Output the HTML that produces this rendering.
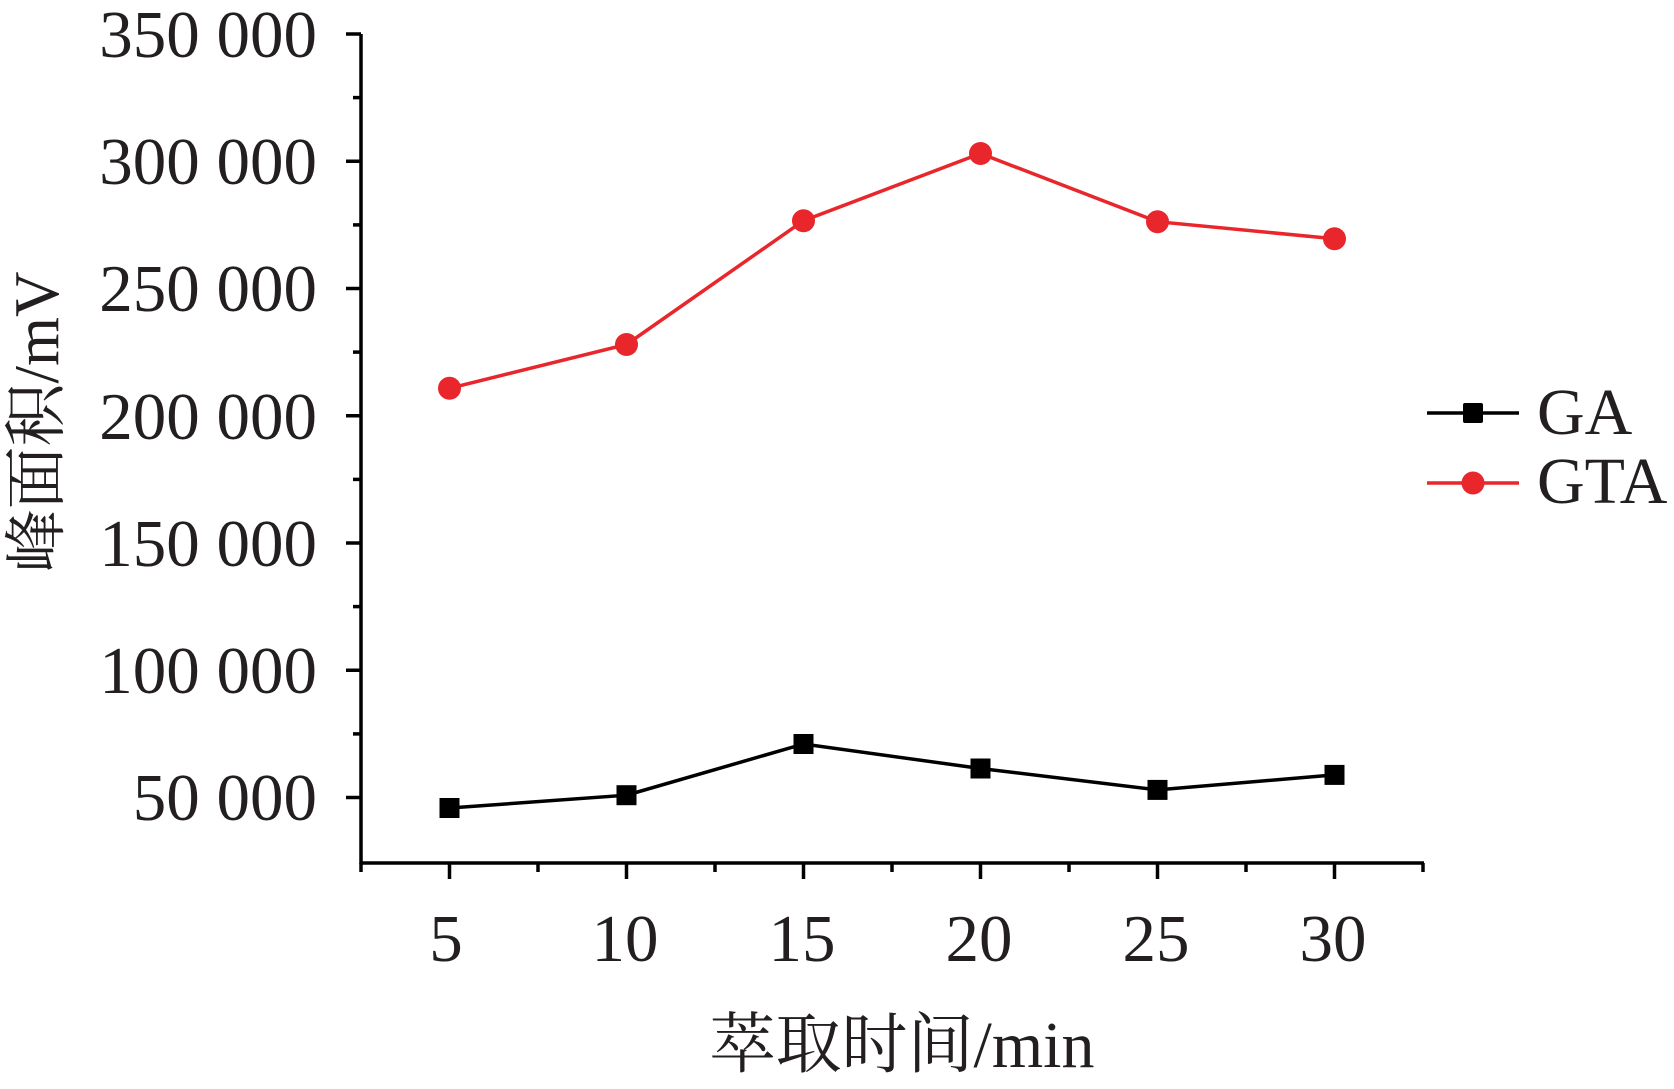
<!DOCTYPE html>
<html><head><meta charset="utf-8"><style>
html,body{margin:0;padding:0;background:#fff;}
svg{display:block;}
text{font-family:"Liberation Serif","Noto Serif CJK SC",serif;fill:#231f20;}
</style></head><body>
<svg width="1674" height="1089" viewBox="0 0 1674 1089" xmlns="http://www.w3.org/2000/svg">
<g stroke="#000" stroke-width="3.5" fill="none">
<line x1="361" y1="34" x2="361" y2="864"/>
<line x1="360" y1="863" x2="1424" y2="863"/>
<line x1="346" y1="34" x2="361" y2="34"/><line x1="346" y1="161.25" x2="361" y2="161.25"/>
<line x1="346" y1="288.5" x2="361" y2="288.5"/><line x1="346" y1="415.75" x2="361" y2="415.75"/>
<line x1="346" y1="543" x2="361" y2="543"/><line x1="346" y1="670.25" x2="361" y2="670.25"/>
<line x1="346" y1="797.5" x2="361" y2="797.5"/>
<line x1="353" y1="97.6" x2="361" y2="97.6"/><line x1="353" y1="224.9" x2="361" y2="224.9"/>
<line x1="353" y1="352.1" x2="361" y2="352.1"/><line x1="353" y1="479.4" x2="361" y2="479.4"/>
<line x1="353" y1="606.6" x2="361" y2="606.6"/><line x1="353" y1="733.9" x2="361" y2="733.9"/>
<line x1="449.5" y1="863" x2="449.5" y2="879"/><line x1="626.5" y1="863" x2="626.5" y2="879"/>
<line x1="803.5" y1="863" x2="803.5" y2="879"/><line x1="980.5" y1="863" x2="980.5" y2="879"/>
<line x1="1157.5" y1="863" x2="1157.5" y2="879"/><line x1="1334.5" y1="863" x2="1334.5" y2="879"/>
<line x1="361" y1="863" x2="361" y2="872"/><line x1="538" y1="863" x2="538" y2="872"/>
<line x1="715" y1="863" x2="715" y2="872"/><line x1="892" y1="863" x2="892" y2="872"/>
<line x1="1069" y1="863" x2="1069" y2="872"/><line x1="1246" y1="863" x2="1246" y2="872"/>
<line x1="1423" y1="863" x2="1423" y2="872"/>
</g>
<g font-size="67" text-anchor="end">
<text x="317" y="57">350 000</text>
<text x="317" y="184">300 000</text>
<text x="317" y="311">250 000</text>
<text x="317" y="439">200 000</text>
<text x="317" y="566">150 000</text>
<text x="317" y="693">100 000</text>
<text x="317" y="820">50 000</text>
</g>
<g font-size="67" text-anchor="middle">
<text x="446" y="961">5</text>
<text x="625" y="961">10</text>
<text x="802" y="961">15</text>
<text x="979" y="961">20</text>
<text x="1156" y="961">25</text>
<text x="1333" y="961">30</text>
</g>
<text x="902" y="1067" font-size="66" text-anchor="middle">萃取时间/min</text>
<text transform="translate(58,422) rotate(-90)" font-size="63" text-anchor="middle">峰面积/mV</text>
<polyline fill="none" stroke="#e8262b" stroke-width="3.5" points="449.5,388.3 626.5,344.5 803.5,220.7 980.5,153.5 1157.5,221.7 1334.5,238.8"/>
<g fill="#e8262b">
<circle cx="449.5" cy="388.3" r="11.5"/><circle cx="626.5" cy="344.5" r="11.5"/>
<circle cx="803.5" cy="220.7" r="11.5"/><circle cx="980.5" cy="153.5" r="11.5"/>
<circle cx="1157.5" cy="221.7" r="11.5"/><circle cx="1334.5" cy="238.8" r="11.5"/>
</g>
<polyline fill="none" stroke="#000" stroke-width="3.5" points="449.5,808 626.5,795.2 803.5,744 980.5,768.5 1157.5,789.9 1334.5,774.9"/>
<g fill="#000">
<rect x="439.5" y="798" width="20" height="20"/><rect x="616.5" y="785.2" width="20" height="20"/>
<rect x="793.5" y="734" width="20" height="20"/><rect x="970.5" y="758.5" width="20" height="20"/>
<rect x="1147.5" y="779.9" width="20" height="20"/><rect x="1324.5" y="764.9" width="20" height="20"/>
</g>
<line x1="1427" y1="413" x2="1519" y2="413" stroke="#000" stroke-width="3.5"/>
<rect x="1463" y="403" width="20" height="20" fill="#000" rx="2"/>
<line x1="1427" y1="483" x2="1519" y2="483" stroke="#e8262b" stroke-width="3.5"/>
<circle cx="1473" cy="483" r="11.5" fill="#e8262b"/>
<text x="1537" y="434" font-size="66">GA</text>
<text x="1537" y="503" font-size="66">GTA</text>
</svg>
</body></html>
